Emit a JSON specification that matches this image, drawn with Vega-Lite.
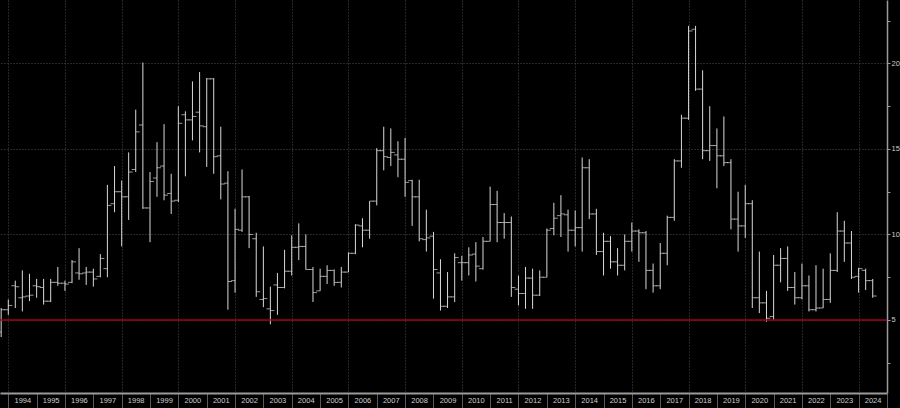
{
  "$schema": "https://vega.github.io/schema/vega-lite/v6.json",
  "width": 887,
  "height": 393,
  "autosize": {"type": "none"},
  "padding": {"left": 0, "top": 0, "right": 13, "bottom": 15},
  "background": "#000000",
  "config": {"view": {"stroke": null}, "font": "Liberation Sans"},
  "datasets": {
    "ref": [{"level": 5}],
    "bars": [
      {"d": "1993-10-01", "o": 4.3, "h": 5.7, "l": 4.0, "c": 5.6},
      {"d": "1994-01-01", "o": 5.6, "h": 6.2, "l": 5.3, "c": 5.85},
      {"d": "1994-04-01", "o": 7.0, "h": 7.3, "l": 5.7, "c": 6.95},
      {"d": "1994-07-01", "o": 6.3, "h": 7.9, "l": 5.5, "c": 6.35},
      {"d": "1994-10-01", "o": 6.4, "h": 7.7, "l": 6.1, "c": 6.45},
      {"d": "1995-01-01", "o": 7.0, "h": 7.4, "l": 6.3, "c": 6.95},
      {"d": "1995-04-01", "o": 6.9, "h": 7.4, "l": 5.9, "c": 6.1},
      {"d": "1995-07-01", "o": 6.1, "h": 7.4, "l": 6.05, "c": 7.2},
      {"d": "1995-10-01", "o": 7.2, "h": 8.1, "l": 7.0, "c": 7.15},
      {"d": "1996-01-01", "o": 7.15, "h": 7.3, "l": 6.7, "c": 7.1},
      {"d": "1996-04-01", "o": 7.2, "h": 8.5, "l": 7.15, "c": 8.4},
      {"d": "1996-07-01", "o": 7.75, "h": 9.2, "l": 7.35, "c": 7.7},
      {"d": "1996-10-01", "o": 7.75, "h": 8.1, "l": 7.05, "c": 7.8},
      {"d": "1997-01-01", "o": 7.8, "h": 8.0, "l": 6.95, "c": 7.4},
      {"d": "1997-04-01", "o": 7.55, "h": 8.85, "l": 7.5, "c": 8.6},
      {"d": "1997-07-01", "o": 8.0, "h": 12.9, "l": 7.5, "c": 11.7},
      {"d": "1997-10-01", "o": 11.8, "h": 14.0, "l": 11.3, "c": 12.5},
      {"d": "1998-01-01", "o": 12.5, "h": 13.15, "l": 9.3, "c": 12.2},
      {"d": "1998-04-01", "o": 12.2, "h": 14.8, "l": 10.85, "c": 13.65},
      {"d": "1998-07-01", "o": 13.8, "h": 17.3, "l": 13.65, "c": 16.0},
      {"d": "1998-10-01", "o": 16.4, "h": 20.05, "l": 11.5, "c": 11.55},
      {"d": "1999-01-01", "o": 11.55, "h": 13.65, "l": 9.55, "c": 13.1},
      {"d": "1999-04-01", "o": 13.3, "h": 15.4, "l": 12.2, "c": 13.9},
      {"d": "1999-07-01", "o": 14.0, "h": 16.45, "l": 12.0, "c": 12.3},
      {"d": "1999-10-01", "o": 12.4, "h": 13.55, "l": 11.2, "c": 11.95},
      {"d": "2000-01-01", "o": 12.0, "h": 17.5, "l": 11.9, "c": 16.5},
      {"d": "2000-04-01", "o": 17.0, "h": 17.2, "l": 13.4, "c": 16.7},
      {"d": "2000-07-01", "o": 16.7, "h": 18.95, "l": 15.5, "c": 16.9},
      {"d": "2000-10-01", "o": 17.15, "h": 19.5, "l": 14.8, "c": 16.35},
      {"d": "2001-01-01", "o": 16.3, "h": 19.15, "l": 13.95, "c": 19.1},
      {"d": "2001-04-01", "o": 19.1, "h": 19.15, "l": 13.55, "c": 14.55},
      {"d": "2001-07-01", "o": 14.6, "h": 16.3, "l": 12.05, "c": 12.95},
      {"d": "2001-10-01", "o": 13.0, "h": 13.7, "l": 5.6, "c": 7.25},
      {"d": "2002-01-01", "o": 7.3, "h": 11.5, "l": 6.6, "c": 10.3},
      {"d": "2002-04-01", "o": 10.25, "h": 13.8, "l": 10.15, "c": 12.2},
      {"d": "2002-07-01", "o": 12.2, "h": 12.25, "l": 9.2, "c": 10.0},
      {"d": "2002-10-01", "o": 9.75, "h": 10.1, "l": 6.35, "c": 6.65},
      {"d": "2003-01-01", "o": 6.2, "h": 9.3, "l": 5.75, "c": 6.25},
      {"d": "2003-04-01", "o": 5.65, "h": 6.95, "l": 4.75, "c": 5.55},
      {"d": "2003-07-01", "o": 7.05, "h": 7.75, "l": 5.3, "c": 6.9},
      {"d": "2003-10-01", "o": 6.9, "h": 9.1, "l": 6.85, "c": 7.85},
      {"d": "2004-01-01", "o": 7.85, "h": 9.95, "l": 7.6, "c": 9.25},
      {"d": "2004-04-01", "o": 9.25, "h": 10.65, "l": 8.5, "c": 9.3},
      {"d": "2004-07-01", "o": 9.3, "h": 10.0, "l": 7.95, "c": 7.95},
      {"d": "2004-10-01", "o": 7.95, "h": 8.1, "l": 6.05, "c": 6.6},
      {"d": "2005-01-01", "o": 6.7, "h": 8.0, "l": 6.7, "c": 7.55},
      {"d": "2005-04-01", "o": 7.55, "h": 8.2, "l": 7.1, "c": 7.9},
      {"d": "2005-07-01", "o": 7.9, "h": 7.95, "l": 7.0, "c": 7.2},
      {"d": "2005-10-01", "o": 7.2, "h": 8.1, "l": 6.9, "c": 7.8},
      {"d": "2006-01-01", "o": 7.8, "h": 8.95, "l": 7.8, "c": 8.9},
      {"d": "2006-04-01", "o": 8.9, "h": 10.6, "l": 8.85, "c": 10.55},
      {"d": "2006-07-01", "o": 10.5, "h": 10.95, "l": 9.25, "c": 10.25},
      {"d": "2006-10-01", "o": 10.25, "h": 11.95, "l": 9.75, "c": 11.95},
      {"d": "2007-01-01", "o": 11.95, "h": 15.05, "l": 11.7, "c": 14.9},
      {"d": "2007-04-01", "o": 14.9, "h": 16.3, "l": 13.75, "c": 14.55},
      {"d": "2007-07-01", "o": 14.5, "h": 16.2, "l": 14.0, "c": 14.8},
      {"d": "2007-10-01", "o": 14.65, "h": 15.45, "l": 13.35, "c": 14.4},
      {"d": "2008-01-01", "o": 14.4, "h": 15.65, "l": 12.2, "c": 13.05},
      {"d": "2008-04-01", "o": 13.15, "h": 13.2, "l": 10.5, "c": 12.2},
      {"d": "2008-07-01", "o": 12.2, "h": 13.2, "l": 9.6, "c": 9.75},
      {"d": "2008-10-01", "o": 9.7, "h": 11.45, "l": 9.0, "c": 9.8},
      {"d": "2009-01-01", "o": 9.9, "h": 10.15, "l": 6.25, "c": 7.95},
      {"d": "2009-04-01", "o": 7.75, "h": 8.55, "l": 5.55, "c": 5.8},
      {"d": "2009-07-01", "o": 5.8, "h": 7.8, "l": 5.7, "c": 6.35},
      {"d": "2009-10-01", "o": 6.35, "h": 8.9, "l": 6.05, "c": 8.65},
      {"d": "2010-01-01", "o": 8.35, "h": 8.75, "l": 7.3, "c": 8.35},
      {"d": "2010-04-01", "o": 8.35, "h": 9.25, "l": 7.6, "c": 8.8},
      {"d": "2010-07-01", "o": 8.85, "h": 9.55, "l": 7.25, "c": 8.15},
      {"d": "2010-10-01", "o": 8.0, "h": 9.85, "l": 7.95, "c": 9.6},
      {"d": "2011-01-01", "o": 9.6, "h": 12.8, "l": 9.6, "c": 11.75},
      {"d": "2011-04-01", "o": 11.75, "h": 12.55, "l": 9.55, "c": 10.7},
      {"d": "2011-07-01", "o": 10.7, "h": 11.25, "l": 9.75, "c": 10.7},
      {"d": "2011-10-01", "o": 10.7, "h": 11.05, "l": 6.35, "c": 6.9},
      {"d": "2012-01-01", "o": 6.8, "h": 7.6, "l": 5.85, "c": 6.55},
      {"d": "2012-04-01", "o": 6.55, "h": 8.1, "l": 5.65, "c": 7.45},
      {"d": "2012-07-01", "o": 7.45, "h": 8.0, "l": 5.65, "c": 6.45},
      {"d": "2012-10-01", "o": 6.45, "h": 7.9, "l": 6.4, "c": 7.5},
      {"d": "2013-01-01", "o": 7.5, "h": 10.35, "l": 7.5, "c": 10.25},
      {"d": "2013-04-01", "o": 10.35, "h": 11.85, "l": 9.95, "c": 10.95},
      {"d": "2013-07-01", "o": 11.1, "h": 12.3, "l": 9.85, "c": 11.2},
      {"d": "2013-10-01", "o": 11.15, "h": 11.45, "l": 9.0, "c": 10.25},
      {"d": "2014-01-01", "o": 10.25, "h": 11.4, "l": 9.3, "c": 10.4},
      {"d": "2014-04-01", "o": 10.4, "h": 14.5, "l": 9.0, "c": 13.9},
      {"d": "2014-07-01", "o": 13.9, "h": 14.4, "l": 10.9, "c": 11.2},
      {"d": "2014-10-01", "o": 11.2, "h": 11.5, "l": 8.8, "c": 9.0},
      {"d": "2015-01-01", "o": 9.0, "h": 10.1, "l": 7.6, "c": 9.6},
      {"d": "2015-04-01", "o": 9.6, "h": 9.9, "l": 8.0, "c": 8.4},
      {"d": "2015-07-01", "o": 8.4, "h": 9.2, "l": 7.6, "c": 8.2},
      {"d": "2015-10-01", "o": 8.2, "h": 10.0, "l": 7.9, "c": 9.6},
      {"d": "2016-01-01", "o": 9.6, "h": 10.7, "l": 9.0, "c": 10.2},
      {"d": "2016-04-01", "o": 10.2, "h": 10.3, "l": 8.4, "c": 10.1},
      {"d": "2016-07-01", "o": 10.1, "h": 10.2, "l": 6.8, "c": 7.9},
      {"d": "2016-10-01", "o": 7.9, "h": 8.3, "l": 6.6, "c": 7.0},
      {"d": "2017-01-01", "o": 7.0, "h": 9.5, "l": 6.8, "c": 8.9},
      {"d": "2017-04-01", "o": 8.9, "h": 11.1, "l": 8.2, "c": 11.0},
      {"d": "2017-07-01", "o": 11.0, "h": 14.4, "l": 10.8, "c": 14.3},
      {"d": "2017-10-01", "o": 14.3, "h": 17.0, "l": 13.9, "c": 16.8},
      {"d": "2018-01-01", "o": 16.8, "h": 22.2, "l": 16.7, "c": 21.9},
      {"d": "2018-04-01", "o": 22.0, "h": 22.2, "l": 18.4, "c": 18.5},
      {"d": "2018-07-01", "o": 18.5, "h": 19.6, "l": 14.4, "c": 14.9},
      {"d": "2018-10-01", "o": 14.9, "h": 17.5, "l": 14.3, "c": 15.2},
      {"d": "2019-01-01", "o": 15.2, "h": 16.2, "l": 12.7, "c": 14.6},
      {"d": "2019-04-01", "o": 14.6, "h": 16.9, "l": 14.0, "c": 14.2},
      {"d": "2019-07-01", "o": 14.2, "h": 14.4, "l": 10.3, "c": 10.9},
      {"d": "2019-10-01", "o": 10.9, "h": 12.5, "l": 9.0, "c": 10.5},
      {"d": "2020-01-01", "o": 10.5, "h": 12.9, "l": 9.8, "c": 11.8},
      {"d": "2020-04-01", "o": 11.8, "h": 12.0, "l": 5.7, "c": 6.3},
      {"d": "2020-07-01", "o": 6.3, "h": 9.0, "l": 5.4, "c": 6.0},
      {"d": "2020-10-01", "o": 6.0, "h": 6.7, "l": 4.9, "c": 5.1},
      {"d": "2021-01-01", "o": 5.2, "h": 8.8, "l": 5.0, "c": 8.2},
      {"d": "2021-04-01", "o": 8.2, "h": 9.2, "l": 7.2, "c": 8.6},
      {"d": "2021-07-01", "o": 8.6, "h": 9.3, "l": 6.7, "c": 6.9},
      {"d": "2021-10-01", "o": 6.9, "h": 7.8, "l": 5.9, "c": 6.3},
      {"d": "2022-01-01", "o": 6.3, "h": 8.3, "l": 6.2, "c": 7.0},
      {"d": "2022-04-01", "o": 7.0, "h": 7.6, "l": 5.5, "c": 5.6},
      {"d": "2022-07-01", "o": 5.6, "h": 8.2, "l": 5.5, "c": 5.7},
      {"d": "2022-10-01", "o": 5.7, "h": 8.0, "l": 5.7, "c": 6.2},
      {"d": "2023-01-01", "o": 6.2, "h": 8.9, "l": 6.0, "c": 7.9},
      {"d": "2023-04-01", "o": 7.9, "h": 11.3, "l": 7.8, "c": 10.2},
      {"d": "2023-07-01", "o": 10.2, "h": 10.8, "l": 8.4, "c": 9.5},
      {"d": "2023-10-01", "o": 9.5, "h": 10.2, "l": 7.4, "c": 7.5},
      {"d": "2024-01-01", "o": 7.55, "h": 8.05, "l": 6.6, "c": 8.0},
      {"d": "2024-04-01", "o": 7.9, "h": 8.0, "l": 6.75, "c": 7.3},
      {"d": "2024-07-01", "o": 7.3, "h": 7.4, "l": 6.3, "c": 6.4}
    ]
  },
  "data": {"name": "bars"},
  "layer": [
    {
      "mark": {"type": "rule", "color": "#d8d8d8", "strokeWidth": 1},
      "encoding": {
        "x": {
          "field": "d",
          "type": "temporal",
          "scale": {
            "type": "utc",
            "domain": [
              {"year": 1993, "month": 9, "date": 16, "utc": true},
              {"year": 2025, "month": 1, "date": 1, "utc": true}
            ]
          },
          "axis": {
            "orient": "bottom",
            "title": null,
            "tickCount": {"interval": "year", "step": 1},
            "labelExpr": "utcyear(datum.value) > 2024 ? '' : utcFormat(datum.value, '%Y')",
            "labelOffset": 14,
            "labelAlign": "center",
            "labelBaseline": "middle",
            "labelPadding": -7.5,
            "labelOverlap": false,
            "labelFlush": false,
            "labelColor": "#cfcfcf",
            "labelFontSize": 7.5,
            "labelFont": "Liberation Sans Narrow, Liberation Sans",
            "tickSize": 15,
            "tickColor": "#5a5a5a",
            "tickWidth": 1,
            "domainColor": "#9a9a9a",
            "domainWidth": 2,
            "grid": true,
            "gridColor": "#4d4d4d",
            "gridDash": [1, 2],
            "gridOpacity": {"condition": {"test": "utcyear(datum.value) % 2 == 0", "value": 1}, "value": 0}
          }
        },
        "y": {
          "field": "l",
          "type": "quantitative",
          "scale": {"domain": [0.73, 23.71], "nice": false, "zero": false},
          "axis": {
            "orient": "right",
            "title": null,
            "values": [2.5, 5, 7.5, 10, 12.5, 15, 17.5, 20, 22.5],
            "labelExpr": "datum.value % 5 == 0 ? format(datum.value, 'd') : ''",
            "tickSize": 3,
            "tickColor": "#9a9a9a",
            "labelColor": "#cfcfcf",
            "labelFontSize": 7.5,
            "labelFont": "Liberation Sans Narrow, Liberation Sans",
            "labelPadding": 1,
            "labelBaseline": "middle",
            "labelOverlap": false,
            "labelFlush": false,
            "domainColor": "#9a9a9a",
            "domainWidth": 1.5,
            "grid": true,
            "gridColor": "#4d4d4d",
            "gridDash": [1, 2],
            "gridOpacity": {"condition": {"test": "datum.value % 5 == 0", "value": 1}, "value": 0}
          }
        },
        "y2": {"field": "h"}
      }
    },
    {
      "data": {"name": "ref"},
      "mark": {"type": "rule", "color": "#a0001c", "strokeWidth": 1.5},
      "encoding": {"y": {"field": "level", "type": "quantitative"}}
    },
    {
      "mark": {"type": "tick", "orient": "horizontal", "size": 4, "thickness": 1, "xOffset": -2, "color": "#d8d8d8"},
      "encoding": {
        "x": {"field": "d", "type": "temporal"},
        "y": {"field": "o", "type": "quantitative"}
      }
    },
    {
      "mark": {"type": "tick", "orient": "horizontal", "size": 4, "thickness": 1, "xOffset": 2, "color": "#d8d8d8"},
      "encoding": {
        "x": {"field": "d", "type": "temporal"},
        "y": {"field": "c", "type": "quantitative"}
      }
    }
  ]
}
